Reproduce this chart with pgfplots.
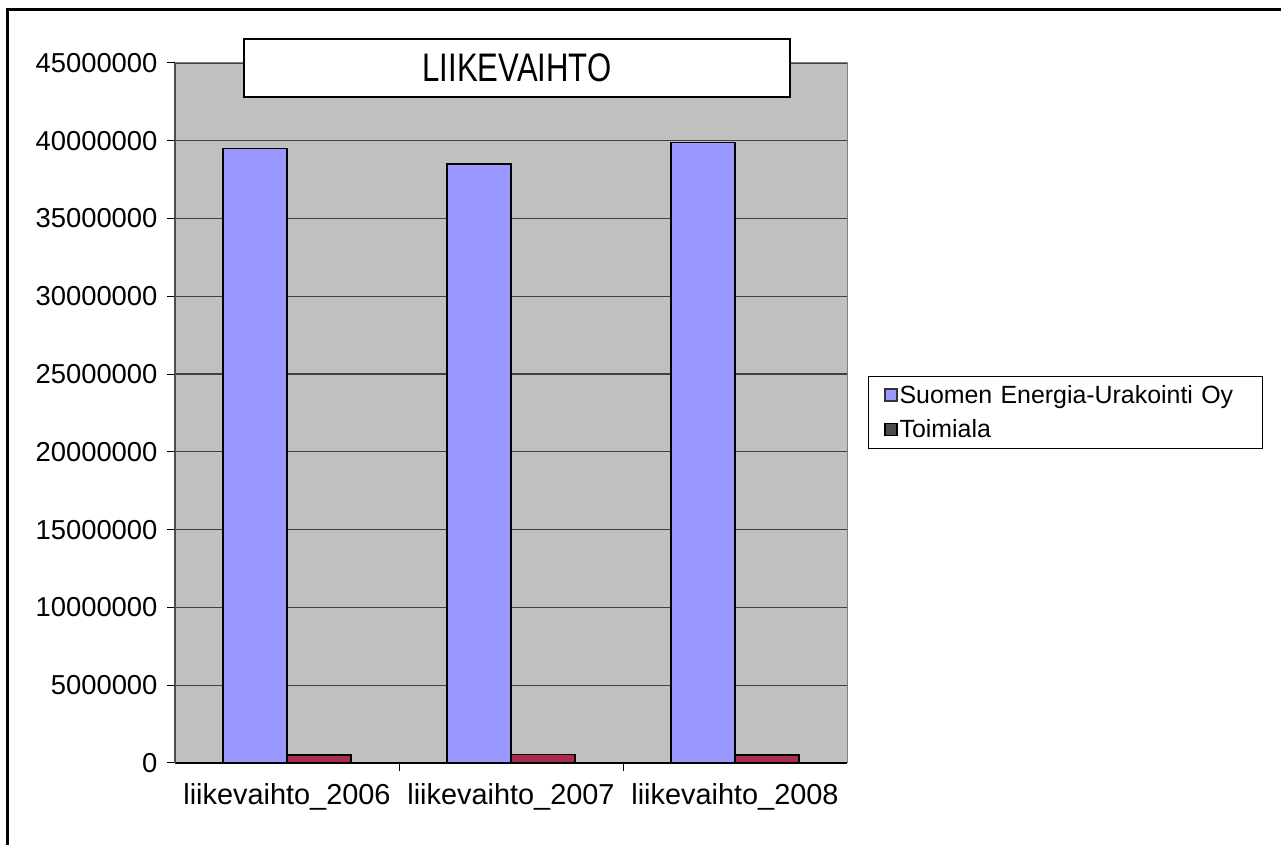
\documentclass[border=0pt]{standalone}
\usepackage{pgfplots}
\pgfplotsset{compat=1.18}
\usepackage{fontspec}
\setmainfont{Liberation Sans}
\newfontfamily\narrowfont[FakeStretch=0.78]{Liberation Sans}
\definecolor{plotbg}{RGB}{192,192,192}
\definecolor{barblue}{RGB}{153,153,255}
\definecolor{barred}{RGB}{170,45,80}
\begin{document}
\begin{tikzpicture}[x=1bp,y=1bp]
\path[use as bounding box, fill=white] (0,0) rectangle (1281,845);
\begin{axis}[
  at={(175bp,82bp)}, anchor=south west,
  scale only axis, width=672bp, height=700bp,
  xmin=0, xmax=3, ymin=0, ymax=45000000,
  ybar=0pt, bar width=64bp,
  axis background/.style={fill=plotbg},
  axis x line*=bottom, axis y line*=left,
  x axis line style={-, black, line width=1.2bp},
  y axis line style={-, black!70, line width=1.2bp},
  tick align=outside,
  major tick length=8bp, minor tick length=8bp,
  tick style={black, line width=1bp},
  xtick={0.5,1.5,2.5},
  xticklabels={liikevaihto\_2006, liikevaihto\_2007, liikevaihto\_2008},
  minor xtick={1,2},
  major x tick style={draw=none},
  ytick={0,5000000,...,45000000},
  ymajorgrids,
  grid style={black!75, line width=1.2bp},
  scaled y ticks=false,
  /pgf/number format/assume math mode=true,
  yticklabel style={/pgf/number format/fixed, /pgf/number format/1000 sep={}, font=\fontsize{27.5}{32}\selectfont, xshift=-6bp},
  xticklabel style={font=\fontsize{29}{32}\selectfont, yshift=-9bp},
  legend style={at={(1.031,0.501)}, anchor=west, draw=black, line width=1bp, fill=white,
    font=\fontsize{25}{30}\selectfont, inner xsep=16bp, inner ysep=7bp, row sep=11bp,
    nodes={text width=345bp, inner xsep=2bp}},
  legend cell align=left,
]
\addplot[fill=barblue, draw=black, line width=1.5bp,
  legend image code/.code={\draw[fill=barblue, draw=black!80, line width=1.2bp] (0bp,-6bp) rectangle (12bp,6bp);}]
  coordinates {(0.5,39500000) (1.5,38500000) (2.5,39900000)};
\addplot[fill=barred, draw=black, line width=1.5bp,
  legend image code/.code={\draw[fill=black!70, draw=black, line width=1.2bp] (0bp,-6bp) rectangle (12bp,6bp);}]
  coordinates {(0.5,500000) (1.5,550000) (2.5,500000)};
\legend{Suomen Energia-Urakointi Oy, Toimiala}
\end{axis}
\draw[gray, line width=1bp] (175,782) -- (847,782) -- (847,82);
\node[draw=black, line width=1.5bp, fill=white, minimum width=546bp, minimum height=58bp, inner sep=0pt,
  font=\narrowfont\fontsize{40}{44}\selectfont] at (517,777) {LIIKEVAIHTO};
\draw[black, line width=3bp] (7.5,0) -- (7.5,835) -- (1281,835);
\end{tikzpicture}
\end{document}
